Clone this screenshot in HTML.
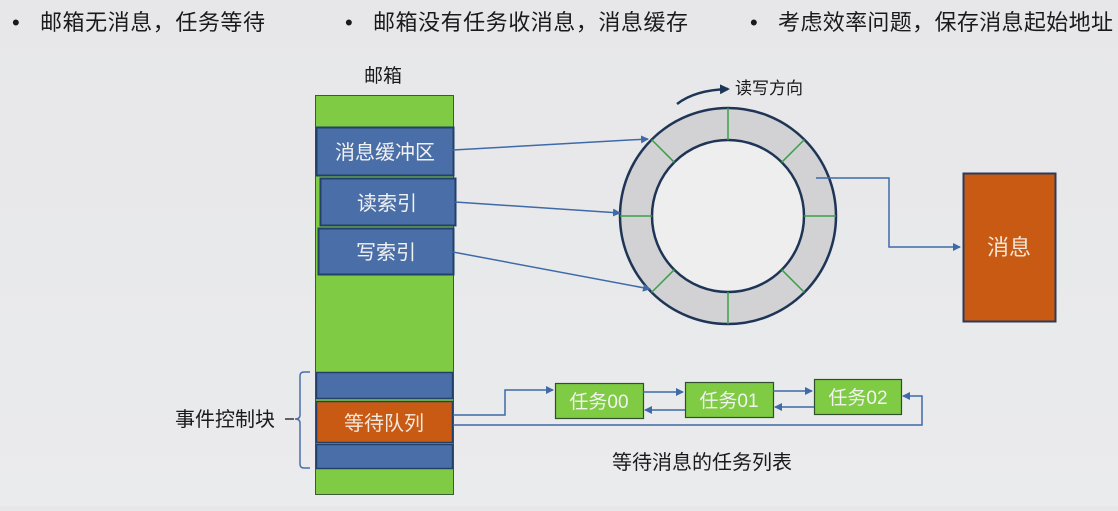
<!DOCTYPE html>
<html><head><meta charset="utf-8">
<style>
html,body{margin:0;padding:0;}
body{width:1118px;height:506px;overflow:hidden;background:linear-gradient(#e7e7e9,#eaebec);}
svg text{font-family:"Liberation Sans","Noto Sans CJK SC",sans-serif;}
</style></head><body>
<svg width="1118" height="506" viewBox="0 0 1118 506" xmlns="http://www.w3.org/2000/svg">
<defs>
<marker id="a" markerWidth="8" markerHeight="8" refX="7" refY="4" orient="auto" markerUnits="userSpaceOnUse">
<path d="M0,0 L8,4 L0,8 z" fill="#3e6aa8"/></marker>
<marker id="b" markerWidth="10" markerHeight="10" refX="8" refY="5" orient="auto" markerUnits="userSpaceOnUse">
<path d="M0,0 L10,5 L0,10 z" fill="#1f3556"/></marker>
</defs>
<g font-size="22" fill="#1a1a1a">
<text x="12" y="30">•</text><text x="40" y="30" textLength="225">邮箱无消息，任务等待</text>
<text x="345" y="30">•</text><text x="373" y="30" textLength="315">邮箱没有任务收消息，消息缓存</text>
<text x="750" y="30">•</text><text x="778" y="30" textLength="335">考虑效率问题，保存消息起始地址</text>
</g>
<text x="364" y="82" font-size="19" fill="#1a1a1a">邮箱</text>
<!-- mailbox -->
<rect x="315.5" y="95.5" width="138" height="399" fill="#7fcb44" stroke="#3a5a3a" stroke-width="1"/>
<rect x="316.5" y="127.5" width="137" height="48" fill="#4a6fa8" stroke="#23406a" stroke-width="2"/>
<rect x="320.5" y="178.5" width="135" height="47" fill="#4a6fa8" stroke="#23406a" stroke-width="2"/>
<rect x="318.5" y="228.5" width="135" height="46" fill="#4a6fa8" stroke="#23406a" stroke-width="2"/>
<g font-size="20" fill="#f2f2f2" text-anchor="middle">
<text x="385" y="159">消息缓冲区</text>
<text x="387" y="210">读索引</text>
<text x="386" y="259">写索引</text>
</g>
<rect x="316.5" y="372.5" width="136" height="26" fill="#4a6fa8" stroke="#23406a" stroke-width="1.5"/>
<rect x="316.5" y="401.5" width="136" height="41" fill="#c85a14" stroke="#23406a" stroke-width="1.5"/>
<rect x="316.5" y="444.5" width="136" height="24" fill="#4a6fa8" stroke="#23406a" stroke-width="1.5"/>
<text x="384" y="430" font-size="20" fill="#f5e8dc" text-anchor="middle">等待队列</text>
<!-- brace -->
<path d="M310,372 h-6 q-4,0 -4,4 v39 q0,4 -5,4 q5,0 5,4 v41 q0,4 4,4 h6" fill="none" stroke="#4a6fa8" stroke-width="1.5"/>
<line x1="285" y1="419" x2="294" y2="419" stroke="#333" stroke-width="1.5"/>
<text x="175" y="426" font-size="20" fill="#1a1a1a">事件控制块</text>
<!-- ring -->
<circle cx="728" cy="216" r="92" fill="none" stroke="#d2d1d4" stroke-width="31"/>
<circle cx="728" cy="216" r="108" fill="none" stroke="#1f3556" stroke-width="2.5"/>
<circle cx="728" cy="216" r="76" fill="#eeeeef" stroke="#1f3556" stroke-width="2.5"/>
<g stroke="#3aa048" stroke-width="1.5">
<line x1="728" y1="108" x2="728" y2="140"/>
<line x1="728" y1="292" x2="728" y2="324"/>
<line x1="620" y1="216" x2="652" y2="216"/>
<line x1="804" y1="216" x2="836" y2="216"/>
<line x1="651.6" y1="139.6" x2="674.3" y2="162.3"/>
<line x1="804.4" y1="139.6" x2="781.7" y2="162.3"/>
<line x1="651.6" y1="292.4" x2="674.3" y2="269.7"/>
<line x1="804.4" y1="292.4" x2="781.7" y2="269.7"/>
</g>
<path d="M677,104 Q695,90 728,89" fill="none" stroke="#1f3556" stroke-width="2.5" marker-end="url(#b)"/>
<text x="735" y="94" font-size="17" fill="#1a1a1a">读写方向</text>
<!-- arrows from mailbox -->
<g stroke="#3e6aa8" stroke-width="1.5" fill="none">
<line x1="453" y1="150" x2="648" y2="139" marker-end="url(#a)"/>
<line x1="455" y1="202" x2="620" y2="213" marker-end="url(#a)"/>
<line x1="453" y1="252" x2="650" y2="289" marker-end="url(#a)"/>
<polyline points="816,178 889,178 889,247 960,247" marker-end="url(#a)"/>
</g>
<!-- message box -->
<rect x="963.5" y="173.5" width="92" height="148" fill="#c85a14" stroke="#2a3a5a" stroke-width="2"/>
<text x="1009" y="255" font-size="22" fill="#f5e6d6" text-anchor="middle">消息</text>
<!-- tasks -->
<g fill="#7fcb44" stroke="#2f4f2f" stroke-width="1.2">
<rect x="555.5" y="383.5" width="88" height="35"/>
<rect x="685.5" y="382.5" width="88" height="35"/>
<rect x="814.5" y="379.5" width="87" height="35"/>
</g>
<g font-size="19" fill="#f2f2f2" text-anchor="middle">
<text x="599" y="408">任务00</text>
<text x="729" y="407">任务01</text>
<text x="858" y="404">任务02</text>
</g>
<g stroke="#3e6aa8" stroke-width="1.5" fill="none">
<polyline points="453,415 505,415 505,390 553,390" marker-end="url(#a)"/>
<line x1="643" y1="392" x2="683" y2="392" marker-end="url(#a)"/>
<line x1="685" y1="410" x2="645" y2="410" marker-end="url(#a)"/>
<line x1="773" y1="391" x2="812" y2="391" marker-end="url(#a)"/>
<line x1="814" y1="407" x2="775" y2="407" marker-end="url(#a)"/>
<polyline points="453,425 922,425 922,396 903,396" marker-end="url(#a)"/>
</g>
<text x="612" y="469" font-size="20" fill="#1a1a1a">等待消息的任务列表</text>
</svg>
</body></html>
